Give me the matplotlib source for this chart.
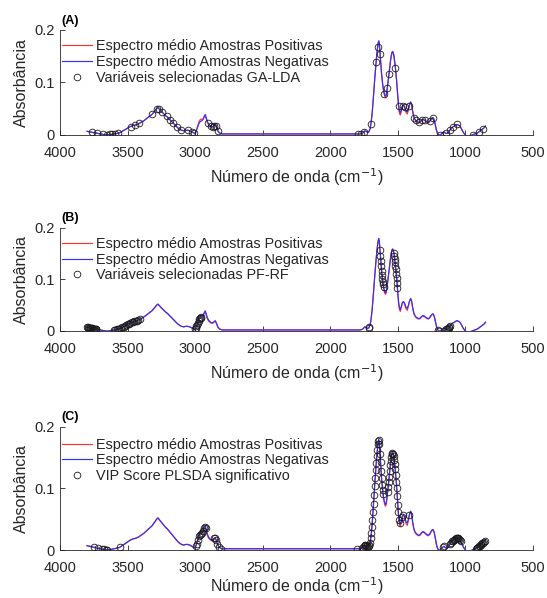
import matplotlib
matplotlib.use("Agg")
import matplotlib.pyplot as plt

plt.rcParams['font.family'] = ['Liberation Sans', 'DejaVu Sans']

# ---- mean spectra (wavenumber, absorbance) ----
wavenumber = [3800, 3780, 3760, 3740, 3720, 3700, 3680, 3660, 3640, 3620, 3600, 3580, 3560, 3540,
              3520, 3500, 3480, 3460, 3440, 3420, 3400, 3380, 3360, 3340, 3320, 3300, 3285, 3275,
              3265, 3250, 3235, 3220, 3205, 3190, 3175, 3160, 3145, 3130, 3115, 3100, 3085, 3070,
              3055, 3040, 3025, 3010, 3000, 2990, 2980, 2970, 2960, 2950, 2940, 2932, 2925, 2918,
              2910, 2900, 2890, 2880, 2870, 2860, 2852, 2845, 2838, 2830, 2820, 2810, 2800, 2790,
              2500, 2000, 1800, 1780, 1765, 1755, 1745, 1735, 1725, 1715, 1705, 1700, 1695, 1690,
              1685, 1680, 1675, 1670, 1665, 1660, 1655, 1650, 1645, 1641, 1637, 1633, 1629, 1625,
              1621, 1617, 1613, 1609, 1605, 1600, 1595, 1591, 1587, 1583, 1579, 1575, 1570, 1565,
              1560, 1555, 1550, 1545, 1540, 1535, 1530, 1525, 1520, 1515, 1510, 1505, 1500, 1495,
              1490, 1485, 1481, 1475, 1468, 1460, 1452, 1445, 1438, 1430, 1422, 1414, 1405, 1398,
              1390, 1382, 1374, 1365, 1355, 1345, 1335, 1325, 1315, 1305, 1295, 1285, 1275, 1265,
              1255, 1245, 1238, 1230, 1222, 1214, 1206, 1198, 1190, 1182, 1174, 1166, 1158, 1150,
              1142, 1134, 1126, 1118, 1110, 1100, 1090, 1080, 1070, 1062, 1054, 1046, 1038, 1030,
              1020, 1010, 1000, 990, 980, 970, 960, 950, 940, 930, 920, 910, 900, 890, 880, 870,
              860, 852]

abs_negative = [0.007, 0.006, 0.005, 0.004, 0.003, 0.002, 0.001, 0.000, 0.000, 0.001, 0.002, 0.003, 0.004, 0.007,
                0.010, 0.013, 0.016, 0.018, 0.019, 0.021, 0.024, 0.027, 0.031, 0.035, 0.039, 0.045, 0.050, 0.052,
                0.049, 0.045, 0.041, 0.037, 0.034, 0.030, 0.026, 0.022, 0.018, 0.014, 0.011, 0.009, 0.008, 0.009,
                0.009, 0.008, 0.006, 0.004, 0.003, 0.009, 0.016, 0.023, 0.026, 0.027, 0.030, 0.036, 0.039, 0.033,
                0.026, 0.021, 0.018, 0.016, 0.016, 0.018, 0.020, 0.017, 0.012, 0.007, 0.004, 0.003, 0.002, 0.002,
                0.002, 0.002, 0.002, 0.002, 0.003, 0.005, 0.008, 0.007, 0.005, 0.006, 0.012, 0.020, 0.030, 0.042,
                0.058, 0.075, 0.093, 0.110, 0.126, 0.141, 0.155, 0.167, 0.176, 0.179, 0.174, 0.160, 0.145, 0.131,
                0.119, 0.108, 0.099, 0.091, 0.085, 0.079, 0.075, 0.074, 0.076, 0.081, 0.088, 0.096, 0.106, 0.117,
                0.128, 0.139, 0.148, 0.155, 0.158, 0.156, 0.150, 0.141, 0.131, 0.119, 0.106, 0.090, 0.073, 0.058,
                0.048, 0.043, 0.042, 0.047, 0.054, 0.057, 0.055, 0.050, 0.045, 0.044, 0.050, 0.058, 0.063, 0.058,
                0.045, 0.035, 0.030, 0.027, 0.025, 0.024, 0.025, 0.028, 0.030, 0.029, 0.027, 0.025, 0.024, 0.026,
                0.030, 0.033, 0.033, 0.028, 0.018, 0.009, 0.003, 0.000, 0.000, 0.001, 0.003, 0.005, 0.006, 0.004,
                0.003, 0.003, 0.005, 0.008, 0.011, 0.014, 0.016, 0.017, 0.019, 0.020, 0.019, 0.018, 0.016, 0.012,
                0.007, 0.003, 0.000, -0.002, -0.002, -0.002, -0.001, 0.000, 0.001, 0.002, 0.003, 0.004, 0.006, 0.008,
                0.010, 0.012, 0.014, 0.017]

abs_positive = [0.007, 0.006, 0.005, 0.004, 0.003, 0.002, 0.001, 0.000, 0.000, 0.001, 0.002, 0.003, 0.004, 0.007,
                0.010, 0.013, 0.016, 0.018, 0.019, 0.021, 0.024, 0.027, 0.031, 0.035, 0.039, 0.045, 0.050, 0.052,
                0.049, 0.045, 0.041, 0.037, 0.034, 0.030, 0.026, 0.022, 0.018, 0.014, 0.011, 0.009, 0.008, 0.009,
                0.009, 0.008, 0.006, 0.004, 0.003, 0.010, 0.018, 0.026, 0.030, 0.030, 0.031, 0.035, 0.037, 0.031,
                0.024, 0.019, 0.017, 0.015, 0.015, 0.017, 0.019, 0.016, 0.011, 0.007, 0.004, 0.003, 0.002, 0.002,
                0.002, 0.002, 0.002, 0.002, 0.003, 0.005, 0.008, 0.007, 0.005, 0.006, 0.012, 0.020, 0.030, 0.042,
                0.058, 0.075, 0.093, 0.110, 0.126, 0.141, 0.155, 0.166, 0.174, 0.176, 0.171, 0.157, 0.142, 0.128,
                0.116, 0.105, 0.096, 0.088, 0.082, 0.076, 0.072, 0.071, 0.073, 0.079, 0.087, 0.096, 0.106, 0.118,
                0.129, 0.140, 0.149, 0.156, 0.159, 0.158, 0.153, 0.145, 0.134, 0.120, 0.105, 0.087, 0.069, 0.054,
                0.044, 0.039, 0.038, 0.045, 0.053, 0.057, 0.054, 0.047, 0.042, 0.040, 0.048, 0.057, 0.062, 0.057,
                0.044, 0.034, 0.029, 0.026, 0.024, 0.023, 0.024, 0.027, 0.029, 0.028, 0.026, 0.024, 0.023, 0.025,
                0.029, 0.032, 0.032, 0.027, 0.017, 0.008, 0.002, 0.000, 0.000, 0.001, 0.003, 0.005, 0.006, 0.004,
                0.003, 0.003, 0.005, 0.008, 0.011, 0.014, 0.016, 0.017, 0.019, 0.020, 0.019, 0.018, 0.016, 0.012,
                0.007, 0.003, 0.000, -0.002, -0.002, -0.002, -0.001, 0.000, 0.001, 0.002, 0.003, 0.004, 0.006, 0.008,
                0.010, 0.012, 0.014, 0.017]

# ---- selected variables, panel (A) GA-LDA ----
sel_a_wn = [3763, 3728, 3679, 3654, 3630, 3617, 3593, 3568, 3475, 3445, 3415, 3322, 3284, 3267, 3247,
            3210, 3186, 3161, 3136, 3105, 3051, 3026, 3006, 2905, 2885, 2870, 2858, 2845, 2830, 1792,
            1775, 1750, 1700, 1661, 1650, 1631, 1599, 1578, 1566, 1519, 1494, 1464, 1450, 1416, 1378,
            1368, 1345, 1320, 1300, 1265, 1240, 1190, 1145, 1114, 1089, 1060, 946, 897, 872]
sel_a_abs = [0.005, 0.004, 0.001, 0.000, 0.001, 0.001, 0.002, 0.004, 0.016, 0.019, 0.022, 0.039, 0.050, 0.049, 0.044,
             0.036, 0.029, 0.022, 0.016, 0.010, 0.009, 0.006, 0.004, 0.023, 0.017, 0.016, 0.018, 0.017, 0.007, 0.002,
             0.002, 0.006, 0.020, 0.138, 0.167, 0.153, 0.078, 0.090, 0.115, 0.128, 0.056, 0.056, 0.054, 0.056, 0.032,
             0.028, 0.024, 0.029, 0.028, 0.026, 0.033, 0.000, 0.004, 0.010, 0.016, 0.020, 0.000, 0.006, 0.011]

# ---- selected variables, panel (B) PF-RF ----
sel_b_wn = [3800, 3795, 3790, 3785, 3780, 3775, 3770, 3765, 3760, 3755, 3750, 3745, 3740, 3735, 3730,
            3600, 3590, 3580, 3570, 3560, 3550, 3540, 3530, 3520, 3510, 3500, 3490, 3480, 3470, 3460,
            3450, 3440, 3430, 3420, 3410, 3000, 2995, 2990, 2985, 2980, 2975, 2970, 2965, 2960, 2955,
            1717, 1713, 1632, 1629, 1626, 1623, 1620, 1617, 1614, 1611, 1608, 1605, 1530, 1527, 1524,
            1521, 1518, 1515, 1512, 1509, 1506, 1503, 1202, 1196, 1142, 1136, 1130, 1124, 1118, 1112]
sel_b_abs = [0.007, 0.007, 0.0065, 0.0065, 0.006, 0.006, 0.0057, 0.0053, 0.005, 0.0048, 0.0045, 0.0043, 0.004, 0.0038, 0.0035,
             0.002, 0.0025, 0.003, 0.0035, 0.004, 0.0055, 0.007, 0.0085, 0.010, 0.0115, 0.013, 0.0145, 0.016, 0.017, 0.018,
             0.0185, 0.019, 0.020, 0.021, 0.0225, 0.003, 0.006, 0.009, 0.0125, 0.016, 0.0195, 0.023, 0.0245, 0.026, 0.0265,
             0.006, 0.007, 0.156, 0.145, 0.135, 0.125, 0.116, 0.108, 0.101, 0.095, 0.090, 0.085, 0.150, 0.145, 0.139,
             0.133, 0.126, 0.119, 0.111, 0.103, 0.093, 0.083, 0.001, 0.000, 0.003, 0.003, 0.004, 0.006, 0.008, 0.010]

# ---- selected variables, panel (C) VIP score PLS-DA ----
sel_c_wn = [3746, 3717, 3692, 3672, 3660, 3650, 3555, 2995, 2988, 2980, 2972, 2964, 2956, 2948, 2940,
            2934, 2928, 2922, 2858, 2850, 2843, 2835, 2825, 2805, 1800, 1765, 1758, 1752, 1746, 1740,
            1734, 1728, 1722, 1716, 1710, 1705, 1700, 1696, 1692, 1688, 1684, 1680, 1676, 1672, 1668,
            1664, 1660, 1656, 1652, 1648, 1644, 1640, 1636, 1632, 1628, 1624, 1620, 1616, 1612, 1608,
            1576, 1572, 1568, 1564, 1560, 1556, 1552, 1548, 1544, 1540, 1536, 1532, 1528, 1524, 1520,
            1516, 1512, 1508, 1504, 1500, 1496, 1490, 1484, 1471, 1459, 1415, 1165, 1158, 1112, 1106,
            1100, 1094, 1088, 1082, 1076, 1070, 1064, 1058, 1052, 1046, 1040, 1034, 925, 918, 912,
            906, 900, 894, 888, 882, 876, 870, 864, 858]
sel_c_abs = [0.005, 0.003, 0.002, 0.001, 0.000, 0.000, 0.005, 0.006, 0.010, 0.016, 0.022, 0.025, 0.026, 0.027, 0.030,
             0.035, 0.037, 0.036, 0.019, 0.019, 0.016, 0.010, 0.005, 0.002, 0.002, 0.003, 0.004, 0.006, 0.008, 0.008,
             0.007, 0.006, 0.005, 0.006, 0.008, 0.012, 0.020, 0.028, 0.037, 0.048, 0.062, 0.075, 0.089, 0.103, 0.116,
             0.129, 0.141, 0.152, 0.162, 0.171, 0.177, 0.178, 0.171, 0.156, 0.142, 0.128, 0.116, 0.106, 0.097, 0.090,
             0.094, 0.102, 0.110, 0.119, 0.128, 0.137, 0.145, 0.151, 0.156, 0.158, 0.156, 0.152, 0.146, 0.139, 0.131,
             0.121, 0.111, 0.100, 0.087, 0.073, 0.061, 0.048, 0.043, 0.053, 0.057, 0.056, 0.005, 0.006, 0.010, 0.012,
             0.014, 0.015, 0.016, 0.017, 0.018, 0.019, 0.020, 0.0195, 0.019, 0.018, 0.017, 0.014, 0.002, 0.003, 0.004,
             0.005, 0.006, 0.007, 0.008, 0.009, 0.011, 0.012, 0.013, 0.015]

panels = [
    ("(A)", "Variáveis selecionadas GA-LDA", sel_a_wn, sel_a_abs, (135, 105.3, 31)),
    ("(B)", "Variáveis selecionadas PF-RF", sel_b_wn, sel_b_abs, (331, 103.4, 31)),
    ("(C)", "VIP Score PLSDA significativo", sel_c_wn, sel_c_abs, (550, 123.4, 25)),
]

W, H = 547, 598
fig = plt.figure(figsize=(W / 100, H / 100), dpi=100)
gray = '#262626'
x_ticks = [4000, 3500, 3000, 2500, 2000, 1500, 1000, 500]

for tag, sel_label, s_wn, s_abs, (base_px, h_px, xlab_px) in panels:
    ax = fig.add_axes([60 / W, 1 - base_px / H, (533 - 60) / W, h_px / H])
    ax.plot(wavenumber, abs_positive, color='#ff3030', lw=0.85,
            label='Espectro médio Amostras Positivas')
    ax.plot(wavenumber, abs_negative, color='#3030ff', lw=0.85,
            label='Espectro médio Amostras Negativas')
    ax.plot(s_wn, s_abs, ls='none', marker='o', ms=4.8, mfc='none',
            mec='#1a1a1a', mew=0.6, label=sel_label)

    ax.set_xlim(4000, 500)
    ax.set_ylim(0, 0.2)
    ax.set_xticks(x_ticks)
    ax.set_xticklabels([str(t) for t in x_ticks])
    ax.set_yticks([0, 0.1, 0.2])
    ax.set_yticklabels(['0', '0.1', '0.2'])
    for side in ['top', 'right']:
        ax.spines[side].set_visible(False)
    for side in ['left', 'bottom']:
        ax.spines[side].set_color(gray)
        ax.spines[side].set_linewidth(0.6)
    ax.tick_params(direction='in', length=3.5, width=0.6, colors=gray,
                   labelsize=10.5)
    ax.tick_params(axis='x', pad=8)
    ax.tick_params(axis='y', pad=4)

    ax.set_xlabel('Número de onda (cm$^{-1}$)', fontsize=11.5, color=gray)
    ax.xaxis.set_label_coords(0.5, -xlab_px / h_px)
    ax.set_ylabel('Absorbância', fontsize=11.5, color=gray)
    ax.yaxis.set_label_coords(-31 / 473, 0.5)

    ax.text(0.003, 1.03, tag, transform=ax.transAxes, fontsize=9,
            fontweight='bold', ha='left', va='bottom')

    ax.legend(loc='upper left', bbox_to_anchor=(0.004, 0.91), frameon=False,
              fontsize=10.4, handlelength=2.1, handletextpad=0.25,
              labelspacing=0.12, borderaxespad=0, borderpad=0,
              labelcolor=gray)

fig.savefig('out.png', dpi=100)
